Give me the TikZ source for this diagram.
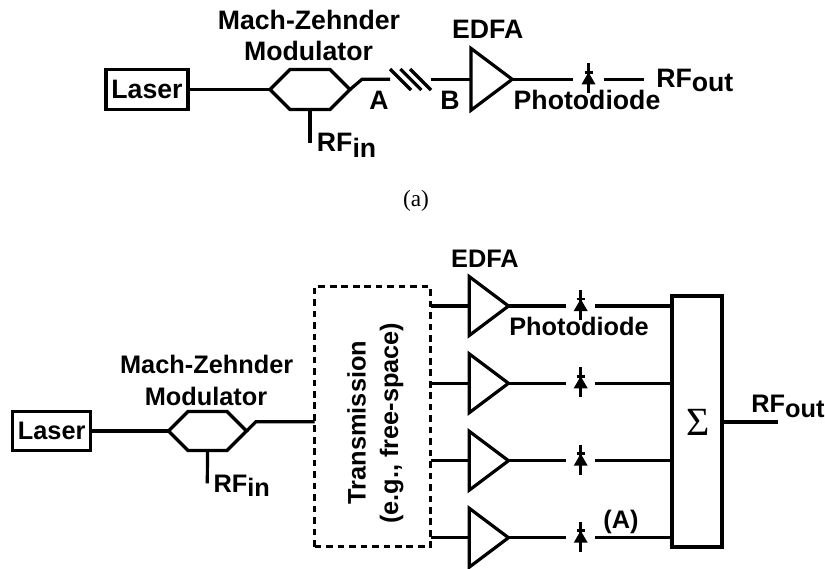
\documentclass[tikz,border=0pt]{standalone}
\usepackage{fontspec}
\setmainfont{Liberation Sans}
\newfontfamily\serifcap{Liberation Serif}
\newcommand{\rfsub}[2]{RF\raisebox{#2}{#1}}
\tikzset{
  x=0.75pt,y=-0.75pt,
  wire/.style={line width=2.4pt,line cap=butt,line join=miter},
  lab/.style={font=\bfseries\fontsize{20}{22}\selectfont,inner sep=0pt,anchor=base},
  labl/.style={font=\bfseries\fontsize{19}{22}\selectfont,inner sep=0pt,anchor=base},
  boxnode/.style={draw,line width=2.6pt,inner sep=0pt,outer sep=0pt,anchor=center},
  amp/.pic={
    \coordinate (-in) at (0,0);
    \coordinate (-tip) at (40,0);
    \draw[wire] (-in) -- (0,-30) -- (-tip) -- (0,30) -- cycle;
  },
  mzm/.pic={
    \coordinate (-in) at (0,0);
    \coordinate (-out) at (80,0);
    \coordinate (-bot) at (40,20);
    \draw[wire] (-in) -- (20,-20) -- (60,-20) -- (-out) -- (60,20) -- (20,20) -- cycle;
  },
  pd/.pic={
    \draw[wire] (0,-16) -- (0,14);
    \draw[wire,line width=2pt] (-4,-7) -- (4,-7);
    \fill (0,-7) -- (7,5) -- (-7,5) -- cycle;
  }
}
\begin{document}
\begin{tikzpicture}
\useasboundingbox (0,0) rectangle (825,568);
% ---------- (a) ----------
\node[boxnode,minimum width=82pt*0.75,minimum height=40.5pt*0.75] (las1) at (147,89.5) {};
\node[lab] (las1t) at (147,98.3) {Laser};
\pic (m1) at (270,89.5) {mzm};
\coordinate (m1c) at (362,79.3);
\coordinate (s1) at (390,79.3);
\coordinate (s2) at (431,79.3);
\coordinate (rfin1) at (310,143);
\draw[wire] (las1.east) -- (m1-in);
\draw[wire] (m1-out) -- (m1c) -- (s1);
\draw[wire] (m1-bot) -- (rfin1);
\coordinate (f1a) at (390,69); \coordinate (f1b) at (411,90);
\coordinate (f2a) at (400.3,69); \coordinate (f2b) at (421.3,90);
\coordinate (f3a) at (410,69); \coordinate (f3b) at (431,90);
\draw[wire] (f1a) -- (f1b);
\draw[wire] (f2a) -- (f2b);
\draw[wire] (f3a) -- (f3b);
\pic[scale=1.03] (am0) at (471,79.3) {amp};
\draw[wire] (s2) -- (am0-in);
\coordinate (d0a) at (573,79.3);
\coordinate (d0b) at (604,79.3);
\coordinate (rfo1) at (644.3,79.3);
\draw[wire] (am0-tip) -- (d0a);
\pic at (588.5,79.3) {pd};
\draw[wire] (d0b) -- (rfo1);
\node[lab] (t1) at (309,29.3) {Mach-Zehnder};
\node[lab] (t2) at (308.5,60.7) {Modulator};
\node[lab] (t3) at (379,109.3) {A};
\node[lab] (t4) at (450,109.3) {B};
\node[lab] (t5) at (487.7,38.3) {EDFA};
\node[lab] (t6) at (587,109.3) {Photodiode};
\node[lab,anchor=base west] (t7) at (316.7,151.7) {\rfsub{in}{-4.5pt}};
\node[lab,anchor=base west] (t8) at (656,87.3) {\rfsub{out}{-3.3pt}};
\node[inner sep=0pt,anchor=base,font=\serifcap\fontsize{17.5}{20}\selectfont] (cap) at (416,206.7) {(a)};
% ---------- (b) ----------
\node[boxnode,minimum width=78.4pt*0.75,minimum height=39.4pt*0.75] (las2) at (51.5,431) {};
\node[labl] (las2t) at (51.7,439.3) {Laser};
\pic[scale=0.975] (m2) at (168.5,431) {mzm};
\coordinate (m2c) at (256,421.7);
\coordinate (rfin2) at (207.3,483.3);
\node[draw,dash pattern=on 5pt off 3.6pt,line width=2.4pt,inner sep=0pt,outer sep=0pt,minimum width=116pt*0.75,minimum height=260pt*0.75] (tx) at (372.7,416.7) {};
\coordinate (txin) at (tx.west |- m2c);
\draw[wire] (las2.east) -- (m2-in);
\draw[wire] (m2-out) -- (m2c) -- (txin);
\draw[wire] (m2-bot) -- (rfin2);
\node[boxnode,minimum width=49.4pt*0.75,minimum height=250.7pt*0.75,line width=2.8pt] (sum) at (697,421.35) {};
\node[inner sep=0pt,font=\serifcap\fontsize{30}{30}\selectfont] (sigma) at (698,422.7) {Σ};
\foreach \n/\yy in {1/306,2/383.3,3/460.7,4/537.7}{
  \pic[scale=0.98] (a\n) at (469.3,\yy) {amp};
  \coordinate (ti\n) at (430.7,\yy);
  \coordinate (da\n) at (566,\yy);
  \coordinate (db\n) at (595,\yy);
  \coordinate (se\n) at (672.3,\yy);
  \draw[wire] (ti\n) -- (a\n-in);
  \draw[wire] (a\n-tip) -- (da\n);
  \pic at (580.7,\yy) {pd};
  \draw[wire] (db\n) -- (se\n);
}
\coordinate (rfo2) at (778,422);
\draw[wire] (sum.east |- rfo2) -- (rfo2);
\node[labl] (u1) at (206.7,373.3) {Mach-Zehnder};
\node[labl] (u2) at (206,405) {Modulator};
\node[labl,anchor=base west] (u3) at (213.3,492.7) {\rfsub{in}{-2.5pt}};
\node[labl] (u4) at (485,267.3) {EDFA};
\node[labl] (u5) at (579,335) {Photodiode};
\node[labl] (u6) at (621,528.3) {(A)};
\node[labl,anchor=base west] (u7) at (751,412.7) {\rfsub{out}{-3.3pt}};
\node[labl,rotate=90] (u8) at (365.7,422.5) {Transmission};
\node[labl,rotate=90] (u9) at (398,423.3) {(e.g., free-space)};
\end{tikzpicture}
\end{document}
